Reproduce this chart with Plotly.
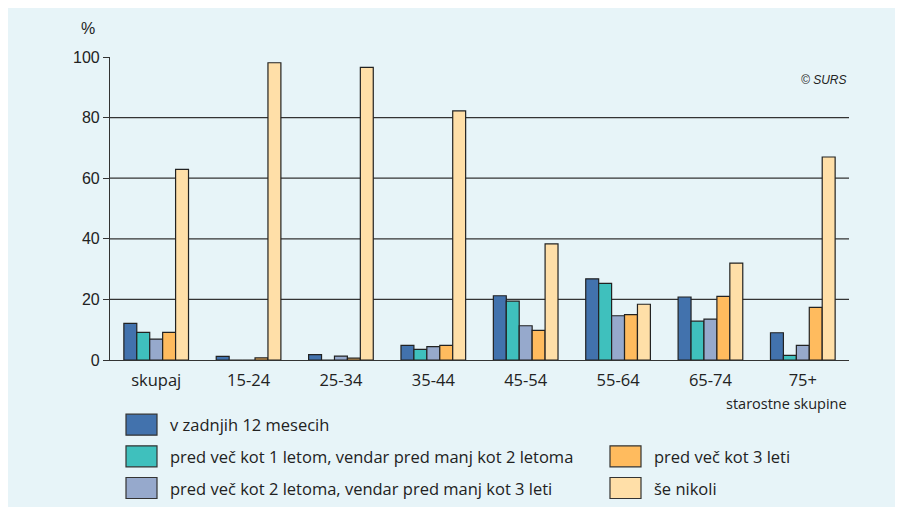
import plotly.graph_objects as go

categories = ["skupaj", "15-24", "25-34", "35-44", "45-54", "55-64", "65-74", "75+"]
series_names = [
    "v zadnjih 12 mesecih",
    "pred več kot 1 letom, vendar pred manj kot 2 letoma",
    "pred več kot 2 letoma, vendar pred manj kot 3 leti",
    "pred več kot 3 leti",
    "še nikoli",
]
v_12_mesecih = [12.1, 1.2, 1.8, 4.8, 21.2, 26.8, 20.8, 9.0]
v_1_2_leti = [9.1, 0, 0, 3.5, 19.4, 25.3, 12.8, 1.5]
v_2_3_leti = [6.9, 0, 1.3, 4.4, 11.3, 14.6, 13.5, 4.8]
v_3_leti = [9.1, 0.7, 0.6, 4.8, 9.8, 15.0, 21.0, 17.4]
se_nikoli = [62.9, 98.1, 96.6, 82.2, 38.3, 18.4, 32.0, 67.0]
series_values = [v_12_mesecih, v_1_2_leti, v_2_3_leti, v_3_leti, se_nikoli]
colors = ["#4272ad", "#3fc0bd", "#96a9cc", "#ffbb5e", "#ffdfa8"]
y_ticks = [0, 20, 40, 60, 80, 100]
grid_vals = [20, 40, 60, 80]

fig = go.Figure()
for name, vals, col in zip(series_names, series_values, colors):
    fig.add_trace(go.Bar(
        x=categories, y=vals, name=name,
        marker=dict(color=col, line=dict(color="#222222", width=1.2)),
        showlegend=False,
    ))

shapes = []
for g in grid_vals:
    shapes.append(dict(type="line", xref="paper", yref="y", x0=0, x1=1, y0=g, y1=g,
                       line=dict(color="#333333", width=1.2), layer="below"))

annotations = [
    dict(text="%", xref="paper", yref="paper", x=-0.03, y=1.095, showarrow=False,
         xanchor="center", yanchor="middle", font=dict(family="Liberation Sans", size=16, color="#222")),
    dict(text="<i>© SURS</i>", xref="paper", yref="paper", x=1.0, y=0.925, showarrow=False,
         xanchor="right", yanchor="middle", font=dict(family="Liberation Sans", size=12, color="#222")),
    dict(text="starostne skupine", xref="paper", yref="paper", x=1.0, y=-0.142, showarrow=False,
         xanchor="right", yanchor="middle", font=dict(family="Open Sans", size=14.5, color="#222")),
]

# manual legend (positions measured in screen pixels, plot area 110..849 x 57..360)
PW, PH = 739.0, 303.0
def px(x):
    return (x - 110) / PW
def py(y):
    return (360 - y) / PH

legend_pos = [(126, 424.7), (126, 456.3), (126, 488.0), (610, 456.3), (610, 488.0)]
for name, col, (lx, ly) in zip(series_names, colors, legend_pos):
    shapes.append(dict(type="rect", xref="paper", yref="paper",
                       x0=px(lx), x1=px(lx + 31), y0=py(ly - 10.5), y1=py(ly + 10.5),
                       fillcolor=col, line=dict(color="#333333", width=1.2)))
    annotations.append(dict(text=name, xref="paper", yref="paper", x=px(lx + 42), y=py(ly),
                            showarrow=False, xanchor="left", yanchor="middle",
                            font=dict(family="Open Sans", size=16.5, color="#222")))

fig.update_layout(
    width=903, height=507,
    margin=dict(l=102, r=62, t=49, b=155),
    paper_bgcolor="#e7f4f8", plot_bgcolor="rgba(0,0,0,0)",
    barmode="group", bargap=0.3, bargroupgap=0,
    shapes=shapes, annotations=annotations,
    xaxis=dict(showgrid=False, showline=True, linecolor="#333333", linewidth=1.2,
               ticks="", ticklabelstandoff=5,
               tickfont=dict(family="Open Sans", size=16.5, color="#222"),
               fixedrange=True),
    yaxis=dict(range=[0, 100], tickvals=y_ticks, showgrid=False, zeroline=False,
               showline=True, linecolor="#333333", linewidth=1.2,
               ticks="outside", ticklen=6, tickcolor="#333333", tickwidth=1.2,
               tickfont=dict(family="Liberation Sans", size=16, color="#222"),
               fixedrange=True),
    showlegend=False,
)

fig.write_html("out.html")
